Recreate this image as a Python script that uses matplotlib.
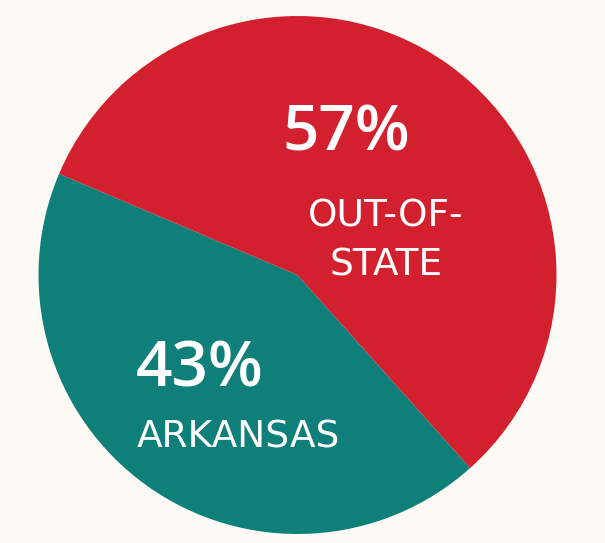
import matplotlib
matplotlib.use("Agg")
import matplotlib.pyplot as plt

# ---------- DATA ----------
labels = ["ARKANSAS", "OUT-OF-\nSTATE"]
shares = [43, 57]
pct_text = ["43%", "57%"]
colors = ["#0F7F79", "#D3202F"]
# --------------------------

W, H = 605, 543
fig = plt.figure(figsize=(W / 100, H / 100), dpi=100, facecolor="#FDFAF5")
ax = fig.add_axes([0, 0, 1, 1])

cx, cy, r = 297.5, H - 275, 259
ax.pie(shares, colors=colors, startangle=157, counterclock=True,
       center=(cx, cy), radius=r, frame=True,
       wedgeprops=dict(linewidth=0))
ax.set_xlim(0, W)
ax.set_ylim(0, H)
ax.set_aspect("equal")
ax.axis("off")

num_font = "Open Sans"
lab_font = "DejaVu Sans"
ax.text(346, H - 134, pct_text[1], color="white", fontsize=46, fontweight="semibold",
        family=num_font, ha="center", va="center")
ax.text(386, H - 241, labels[1], color="white", fontsize=27, family=lab_font,
        ha="center", va="center", linespacing=1.45)
ax.text(200, H - 370, pct_text[0], color="white", fontsize=46, fontweight="semibold",
        family=num_font, ha="center", va="center")
ax.text(238, H - 438, labels[0], color="white", fontsize=27, family=lab_font,
        ha="center", va="center")

fig.savefig("out.png", dpi=100, facecolor=fig.get_facecolor())
